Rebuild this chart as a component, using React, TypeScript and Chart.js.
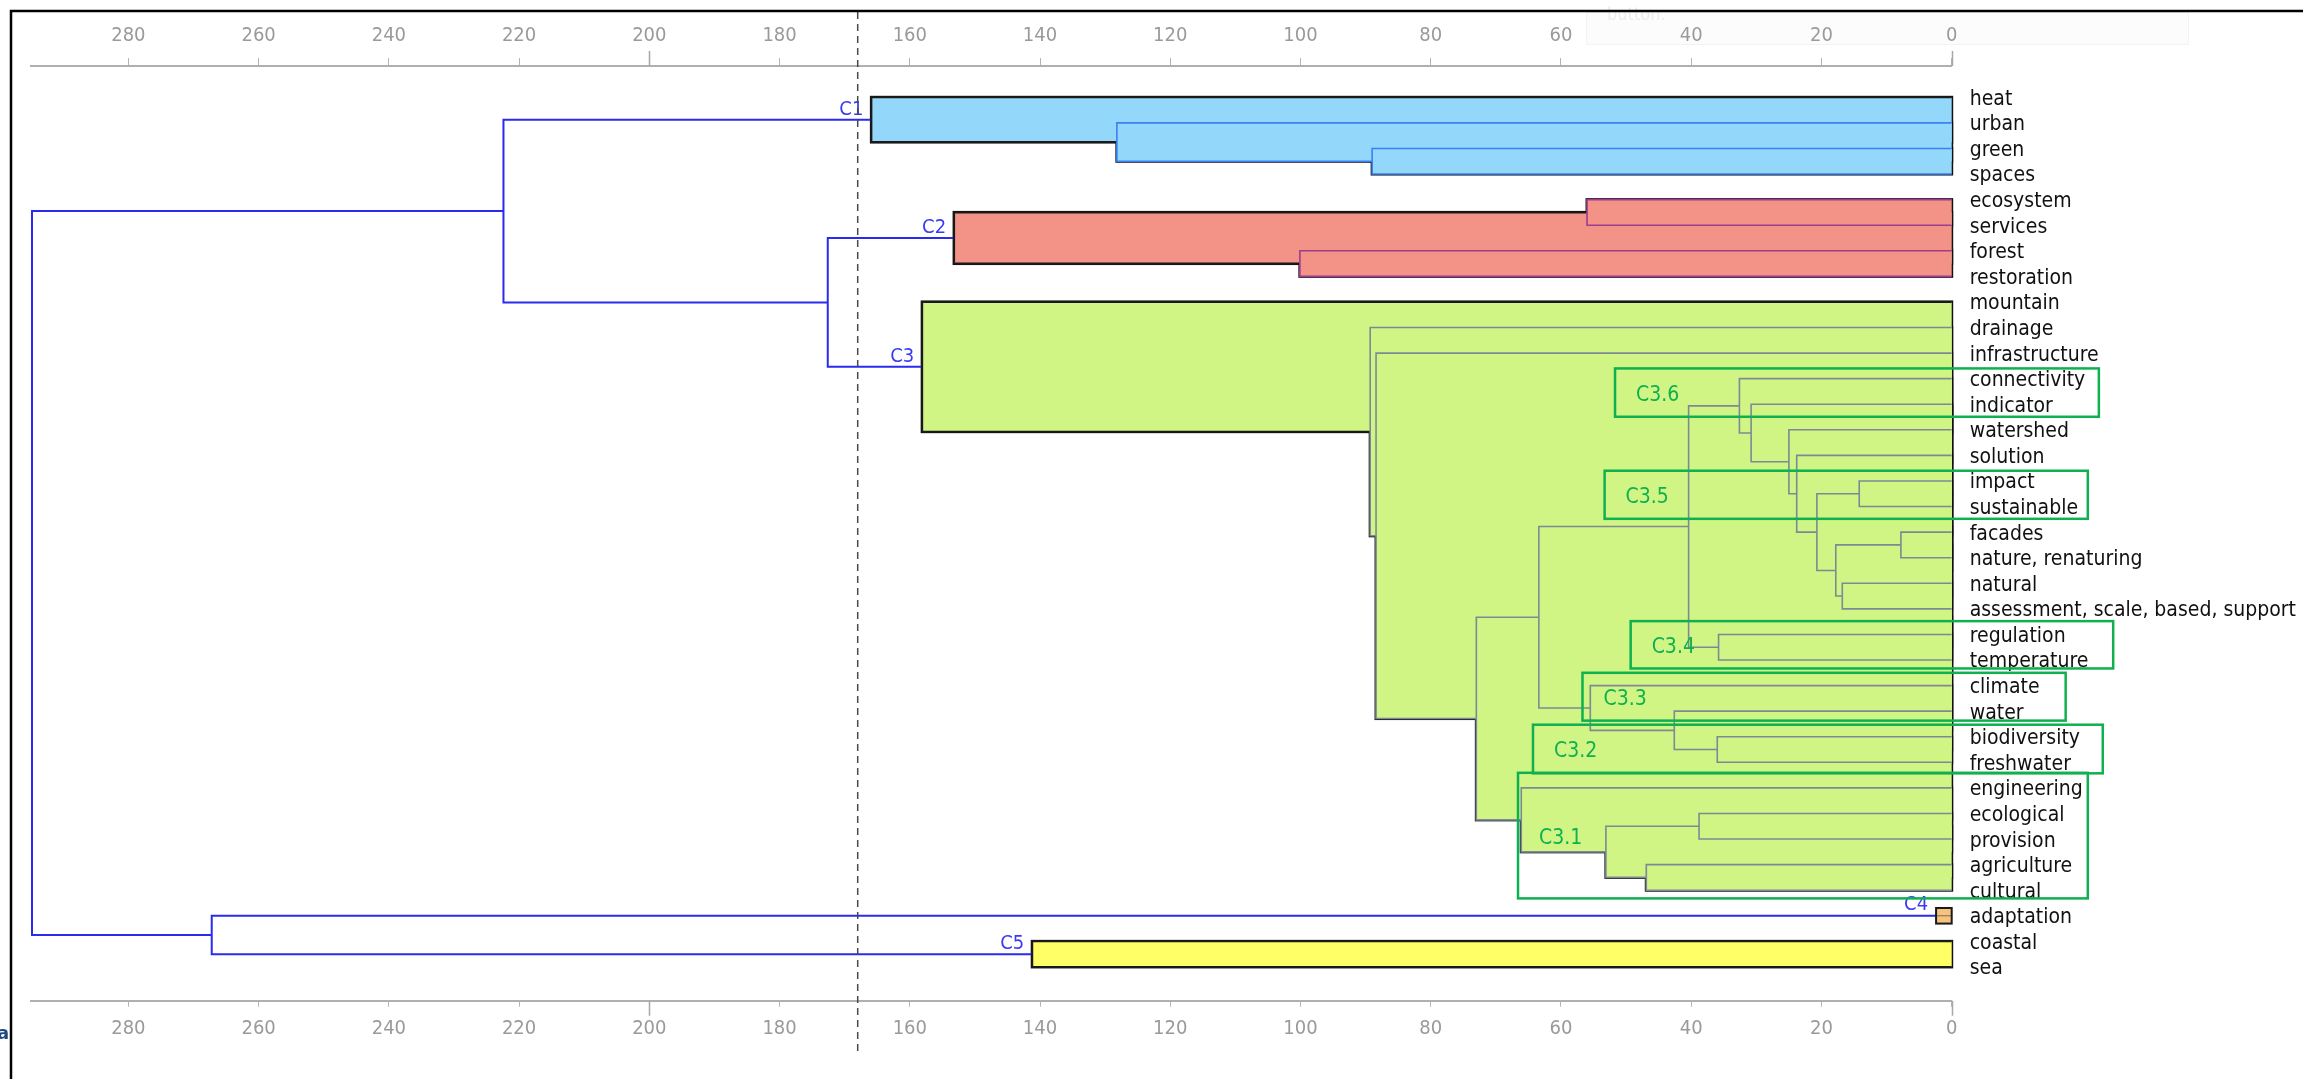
import React, { useEffect, useRef } from 'react';
import { Chart, registerables } from 'chart.js';

Chart.register(...registerables);

// ---------------- DATA ----------------
const leafLabels = [
  'heat', 'urban', 'green', 'spaces',
  'ecosystem', 'services', 'forest', 'restoration',
  'mountain', 'drainage', 'infrastructure', 'connectivity', 'indicator', 'watershed', 'solution',
  'impact', 'sustainable', 'facades', 'nature, renaturing', 'natural', 'assessment, scale, based, support',
  'regulation', 'temperature', 'climate', 'water', 'biodiversity', 'freshwater',
  'engineering', 'ecological', 'provision', 'agriculture', 'cultural',
  'adaptation', 'coastal', 'sea',
];

// Linkage: ids 0..34 are leaves, merge k gets id 35 + k
const mergeLeft = [2, 1, 0, 4, 6, 38, 17, 19, 41, 15, 44, 14, 13, 12, 11, 21, 49, 25, 24, 23, 51, 28, 30, 56, 27, 55, 10, 9, 8, 40, 37, 33, 32, 65];
const mergeRight = [3, 35, 36, 5, 7, 39, 18, 20, 42, 16, 43, 45, 46, 47, 48, 22, 50, 26, 52, 53, 54, 29, 31, 57, 58, 59, 60, 61, 62, 63, 64, 34, 66, 67];
const mergeHeight = [89.0, 128.2, 165.9, 56.0, 100.1, 153.2, 7.8, 16.8, 17.8, 14.2, 20.7, 23.8, 25.0, 30.8, 32.6, 35.8, 40.4, 36.0, 42.6, 55.5, 63.4, 38.8, 46.9, 53.1, 66.1, 73.0, 88.4, 89.3, 158.1, 172.6, 222.4, 141.2, 267.2, 294.8];

const clusterNames = ['C1', 'C2', 'C3', 'C4', 'C5'];
const clusterNodes = [37, 40, 63, 32, 66];
const cutHeight = 168.0;

const subclusterNames = ['C3.6', 'C3.5', 'C3.4', 'C3.3', 'C3.2', 'C3.1'];

const axisTickStep = 20;
const axisMax = 295;

// ---------------- STYLE / LAYOUT ----------------
const W = 2303;
const H = 1079;
const FAMILY = '"DejaVu Sans Condensed", "DejaVu Sans", sans-serif';
const clusterFill = ['#93d8fa', '#f39387', '#d0f585', '#f7c27e', '#ffff66'];
const clusterInner = ['#3b80f5', '#9e3d90', '#7d8a95', '#555555', '#555555'];
const TOP_LINE = '#2a2af0';
const LABEL_BLUE = '#3a3af5';
const GREEN = '#0fb04f';
const SINGLE_LEAF_W = 2.4; // value units
const SINGLE_LEAF_HALF = 7.8; // px
// box geometry for the hand-drawn sub-cluster frames (rows / axis units)
const SUB_BOX_LAYOUT = [
  { rowTop: 10.6, rowBottom: 12.49, left: 51.7, right: -22.6 },
  { rowTop: 14.6, rowBottom: 16.48, left: 53.3, right: -20.9 },
  { rowTop: 20.48, rowBottom: 22.33, left: 49.3, right: -24.8 },
  { rowTop: 22.5, rowBottom: 24.37, left: 56.7, right: -17.5 },
  { rowTop: 24.53, rowBottom: 26.43, left: 64.3, right: -23.2 },
  { rowTop: 26.41, rowBottom: 31.32, left: 66.6, right: -20.9 },
];

// ---------------- DERIVED TREE ----------------
const NL = leafLabels.length;
const nodeY: number[] = leafLabels.map((_, i) => i);
const nodeH: number[] = leafLabels.map(() => 0);
mergeHeight.forEach((h, k) => {
  nodeY.push((nodeY[mergeLeft[k]] + nodeY[mergeRight[k]]) / 2);
  nodeH.push(h);
});

function subtreeMerges(id: number): number[] {
  if (id < NL) return [];
  const k = id - NL;
  return [k, ...subtreeMerges(mergeLeft[k]), ...subtreeMerges(mergeRight[k])];
}

const mergeCluster: number[] = mergeHeight.map(() => -1);
const mergeIsRoot: boolean[] = mergeHeight.map(() => false);
clusterNodes.forEach((id, c) => {
  subtreeMerges(id).forEach((k) => { mergeCluster[k] = c; });
  if (id >= NL) mergeIsRoot[id - NL] = true;
});

function buildDatasets() {
  return mergeHeight.map((h, k) => {
    const a = mergeLeft[k];
    const b = mergeRight[k];
    const c = mergeCluster[k];
    let color = TOP_LINE;
    let width = 2;
    if (c >= 0) {
      color = mergeIsRoot[k] ? '#1a1a1a' : clusterInner[c];
      width = mergeIsRoot[k] ? 2 : 1.6;
    }
    return {
      type: 'scatter' as const,
      data: [
        { x: nodeH[a], y: nodeY[a] },
        { x: h, y: nodeY[a] },
        { x: h, y: nodeY[b] },
        { x: nodeH[b], y: nodeY[b] },
      ],
      showLine: true,
      borderColor: color,
      borderWidth: width,
      pointRadius: 0,
      pointHoverRadius: 0,
      tension: 0,
      clip: false as any,
      xAxisID: 'x',
      yAxisID: 'y',
    };
  });
}

const dendroPlugin = {
  id: 'dendro',
  beforeDraw(chart: any) {
    const ctx = chart.ctx as CanvasRenderingContext2D;
    ctx.save();
    ctx.fillStyle = 'rgba(0,0,0,0.012)';
    ctx.fillRect(1586, 12, 602, 32);
    ctx.strokeStyle = '#f3f3f3';
    ctx.lineWidth = 1;
    ctx.strokeRect(1586.5, 12.5, 602, 32);
    ctx.fillStyle = '#ececec';
    ctx.font = `18px ${FAMILY}`;
    ctx.textBaseline = 'alphabetic';
    ctx.fillText('button.', 1607, 20);
    ctx.restore();
  },
  beforeDatasetsDraw(chart: any) {
    const ctx = chart.ctx as CanvasRenderingContext2D;
    const xs = chart.scales.x;
    const ys = chart.scales.y;
    ctx.save();
    clusterNodes.forEach((id, c) => {
      if (id < NL) return;
      const ks = subtreeMerges(id);
      const rects = ks.map((k) => {
        const ya = ys.getPixelForValue(nodeY[mergeLeft[k]]);
        const yb = ys.getPixelForValue(nodeY[mergeRight[k]]);
        const x0 = xs.getPixelForValue(mergeHeight[k]);
        const x1 = xs.getPixelForValue(0);
        return [x0, Math.min(ya, yb), x1 - x0, Math.abs(yb - ya)];
      });
      ctx.strokeStyle = '#111';
      ctx.lineWidth = 3;
      ctx.lineJoin = 'miter';
      rects.forEach((r) => ctx.strokeRect(r[0], r[1], r[2], r[3]));
      ctx.fillStyle = clusterFill[c];
      rects.forEach((r) => ctx.fillRect(r[0], r[1], r[2], r[3]));
    });
    ctx.restore();
  },
  afterDatasetsDraw(chart: any) {
    const ctx = chart.ctx as CanvasRenderingContext2D;
    const xs = chart.scales.x;
    const ys = chart.scales.y;
    ctx.save();
    // single-leaf clusters
    clusterNodes.forEach((id, c) => {
      if (id >= NL) return;
      const y = ys.getPixelForValue(nodeY[id]);
      const x0 = xs.getPixelForValue(SINGLE_LEAF_W);
      const x1 = xs.getPixelForValue(0);
      ctx.fillStyle = clusterFill[c];
      ctx.fillRect(x0, y - SINGLE_LEAF_HALF, x1 - x0, SINGLE_LEAF_HALF * 2);
      ctx.strokeStyle = '#7a6a55';
      ctx.lineWidth = 1;
      ctx.beginPath();
      ctx.moveTo(x0, y);
      ctx.lineTo(x1, y);
      ctx.stroke();
      ctx.strokeStyle = '#1a1a1a';
      ctx.lineWidth = 2;
      ctx.strokeRect(x0, y - SINGLE_LEAF_HALF, x1 - x0, SINGLE_LEAF_HALF * 2);
    });
    // cluster labels
    ctx.font = `20px ${FAMILY}`;
    ctx.fillStyle = LABEL_BLUE;
    ctx.textAlign = 'right';
    ctx.textBaseline = 'alphabetic';
    clusterNodes.forEach((id, c) => {
      const h = id < NL ? SINGLE_LEAF_W : nodeH[id];
      const x = xs.getPixelForValue(h) - 8;
      const y = ys.getPixelForValue(nodeY[id]) - (id < NL ? 6 : 5);
      ctx.fillText(clusterNames[c], x, y);
    });
    // sub-cluster frames
    ctx.strokeStyle = GREEN;
    ctx.lineWidth = 2.5;
    ctx.fillStyle = GREEN;
    ctx.font = `21px ${FAMILY}`;
    ctx.textAlign = 'left';
    ctx.textBaseline = 'middle';
    subclusterNames.forEach((name, i) => {
      const b = SUB_BOX_LAYOUT[i];
      const x0 = xs.getPixelForValue(b.left);
      const x1 = xs.getPixelForValue(b.right);
      const y0 = ys.getPixelForValue(b.rowTop);
      const y1 = ys.getPixelForValue(b.rowBottom);
      ctx.strokeRect(x0, y0, x1 - x0, y1 - y0);
      ctx.fillText(name, x0 + 21, (y0 + y1) / 2 + 3);
    });
    // cut line
    ctx.strokeStyle = '#4a4a4a';
    ctx.lineWidth = 1.5;
    ctx.setLineDash([7, 5]);
    const cx = xs.getPixelForValue(cutHeight);
    ctx.beginPath();
    ctx.moveTo(cx, 12);
    ctx.lineTo(cx, 1053);
    ctx.stroke();
    ctx.setLineDash([]);
    ctx.restore();
  },
  afterDraw(chart: any) {
    const ctx = chart.ctx as CanvasRenderingContext2D;
    const xs = chart.scales.x;
    const x2 = chart.scales.x2;
    ctx.save();
    // longer major ticks
    ctx.strokeStyle = '#a8a8a8';
    ctx.lineWidth = 1.5;
    [0, 200].forEach((v) => {
      const px = Math.round(xs.getPixelForValue(v)) + 0.5;
      ctx.beginPath();
      ctx.moveTo(px, xs.bottom - 15);
      ctx.lineTo(px, xs.bottom);
      ctx.moveTo(px, x2.top);
      ctx.lineTo(px, x2.top + 15);
      ctx.stroke();
    });
    // frame
    ctx.strokeStyle = '#000';
    ctx.lineWidth = 2.5;
    ctx.beginPath();
    ctx.moveTo(11, H);
    ctx.lineTo(11, 11);
    ctx.lineTo(W, 11);
    ctx.stroke();
    // stray corner letter
    ctx.fillStyle = '#1f497d';
    ctx.font = `bold 18px "DejaVu Sans", sans-serif`;
    ctx.textAlign = 'left';
    ctx.textBaseline = 'alphabetic';
    ctx.fillText('a', -3, 1039);
    ctx.restore();
  },
};

export default function App() {
  const ref = useRef<HTMLCanvasElement>(null);
  useEffect(() => {
    document.body.style.margin = '0';
    const canvas = ref.current!;
    const xAxisCommon = {
      type: 'linear' as const,
      reverse: true,
      min: 0,
      max: axisMax,
      ticks: {
        stepSize: axisTickStep,
        includeBounds: false,
        color: '#9a9a9a',
        font: { family: FAMILY, size: 20 },
        padding: 10,
        maxRotation: 0,
        autoSkip: false,
      },
      border: { display: true, color: '#b0b0b0', width: 2 },
    };
    const chart = new Chart(canvas, {
      type: 'scatter',
      data: { datasets: buildDatasets() as any },
      plugins: [dendroPlugin],
      options: {
        responsive: false,
        animation: false,
        devicePixelRatio: 1,
        layout: { padding: { left: 30.7, right: 0, top: 0, bottom: 0 } },
        plugins: { legend: { display: false }, tooltip: { enabled: false } },
        events: [],
        scales: {
          x: {
            ...xAxisCommon,
            position: 'top',
            afterFit: (s: any) => { s.height = 66; },
            grid: { drawOnChartArea: false, drawTicks: true, tickLength: 8, tickColor: '#b4b4b4', tickWidth: 1 },
          },
          x2: {
            ...xAxisCommon,
            position: 'bottom',
            afterFit: (s: any) => { s.height = H - 1000.7; },
            grid: { drawOnChartArea: false, drawTicks: true, tickLength: 6, tickColor: '#b4b4b4', tickWidth: 1 },
          },
          y: {
            type: 'linear',
            position: 'right',
            reverse: true,
            min: -1.224,
            max: 35.32,
            afterFit: (s: any) => { s.width = W - 1951.7; },
            afterBuildTicks: (s: any) => { s.ticks = leafLabels.map((_, i) => ({ value: i })); },
            ticks: {
              autoSkip: false,
              padding: 18,
              labelOffset: 2,
              color: '#111111',
              font: { family: FAMILY, size: 21 },
              callback: (v: any) => leafLabels[Math.round(Number(v))] ?? '',
            },
            grid: { display: false, drawTicks: false },
            border: { display: false },
          },
        },
      } as any,
    });
    return () => chart.destroy();
  }, []);
  return (
    <canvas
      ref={ref}
      width={W}
      height={H}
      style={{ display: 'block', width: `${W}px`, height: `${H}px` }}
    />
  );
}
